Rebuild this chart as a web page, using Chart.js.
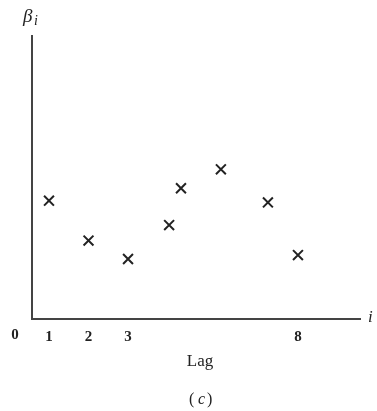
<!DOCTYPE html>
<html>
<head>
<meta charset="utf-8">
<script src="https://cdn.jsdelivr.net/npm/chart.js@4/dist/chart.umd.min.js"></script>
<style>
  html, body { margin: 0; padding: 0; background: #fff; }
  #wrap { width: 377px; height: 411px; }
</style>
</head>
<body>
<div id="wrap"><canvas id="myChart" width="377" height="411"></canvas></div>
<script>
// lag positions along the (schematic) axis and the coefficient values
var lagPositions = [1, 2, 3, 4.04, 4.34, 5.35, 6.54, 7.30];
var betaValues = [4.18, 2.77, 2.12, 3.32, 4.62, 5.29, 4.12, 2.26];
var tickPositions = [1, 2, 3, 7.30];
var tickLabels = ['1', '2', '3', '8'];

var ink = '#222';
var serif = "'Liberation Serif', 'DejaVu Serif', serif";

// text around the axes
var labelsPlugin = {
    id: 'labels',
    afterDraw: function(chart) {
        var ctx = chart.ctx;
        var a = chart.chartArea;
        var cx = (a.left + a.right) / 2;
        ctx.save();
        ctx.fillStyle = ink;
        ctx.textBaseline = 'middle';

        // beta_i on the y axis
        ctx.textAlign = 'left';
        ctx.font = 'italic 19px ' + serif;
        ctx.fillText('\u03B2', a.left - 9, a.top - 19);
        ctx.font = 'italic 14px ' + serif;
        ctx.fillText('i', a.left + 2, a.top - 15);

        // i at the end of the x axis
        ctx.font = 'italic 17px ' + serif;
        ctx.fillText('i', a.right + 8, a.bottom - 1);

        // origin
        ctx.textAlign = 'center';
        ctx.font = 'bold 15px ' + serif;
        ctx.fillText('0', a.left - 17, a.bottom + 16);

        ctx.font = '17px ' + serif;
        ctx.fillText('Lag', cx + 4, a.bottom + 43);

        // (c) with an italic c
        ctx.textAlign = 'left';
        ctx.font = '16px ' + serif;
        ctx.fillText('(', cx - 7, a.bottom + 81);
        ctx.fillText(')', cx + 11, a.bottom + 81);
        ctx.font = 'italic 16px ' + serif;
        ctx.fillText('c', cx + 2, a.bottom + 81);
        ctx.restore();
    }
};

var data = {
    datasets: [{
        data: lagPositions.map(function(x, i) { return { x: x, y: betaValues[i] }; }),
        pointStyle: 'crossRot',
        pointRadius: 7,
        pointBorderWidth: 2,
        borderColor: ink,
        backgroundColor: ink,
        showLine: false
    }]
};

var options = {
    responsive: false,
    animation: false,
    layout: { padding: { top: 36, right: 17, left: 0, bottom: 0 } },
    plugins: { legend: { display: false }, tooltip: { enabled: false } },
    scales: {
        x: {
            type: 'linear',
            min: 0.57,
            max: 8.87,
            grid: { display: false, drawTicks: false, tickLength: 0 },
            border: { display: true, color: '#444', width: 2 },
            afterBuildTicks: function(scale) {
                scale.ticks = tickPositions.map(function(v) { return { value: v }; });
            },
            afterFit: function(scale) { scale.height = 92; },
            ticks: {
                autoSkip: false,
                maxRotation: 0,
                padding: 9,
                color: ink,
                font: { family: serif, size: 15, weight: 'bold' },
                callback: function(value, index) { return tickLabels[index]; }
            }
        },
        y: {
            min: 0,
            max: 10,
            grid: { display: false, drawTicks: false, tickLength: 0 },
            border: { display: true, color: '#444', width: 2 },
            ticks: { display: false },
            afterFit: function(scale) { scale.width = 32; }
        }
    }
};

var ctx = document.getElementById('myChart').getContext('2d');
var myChart = new Chart(ctx, {
    type: 'scatter',
    data: data,
    options: options,
    plugins: [labelsPlugin]
});
</script>
</body>
</html>
